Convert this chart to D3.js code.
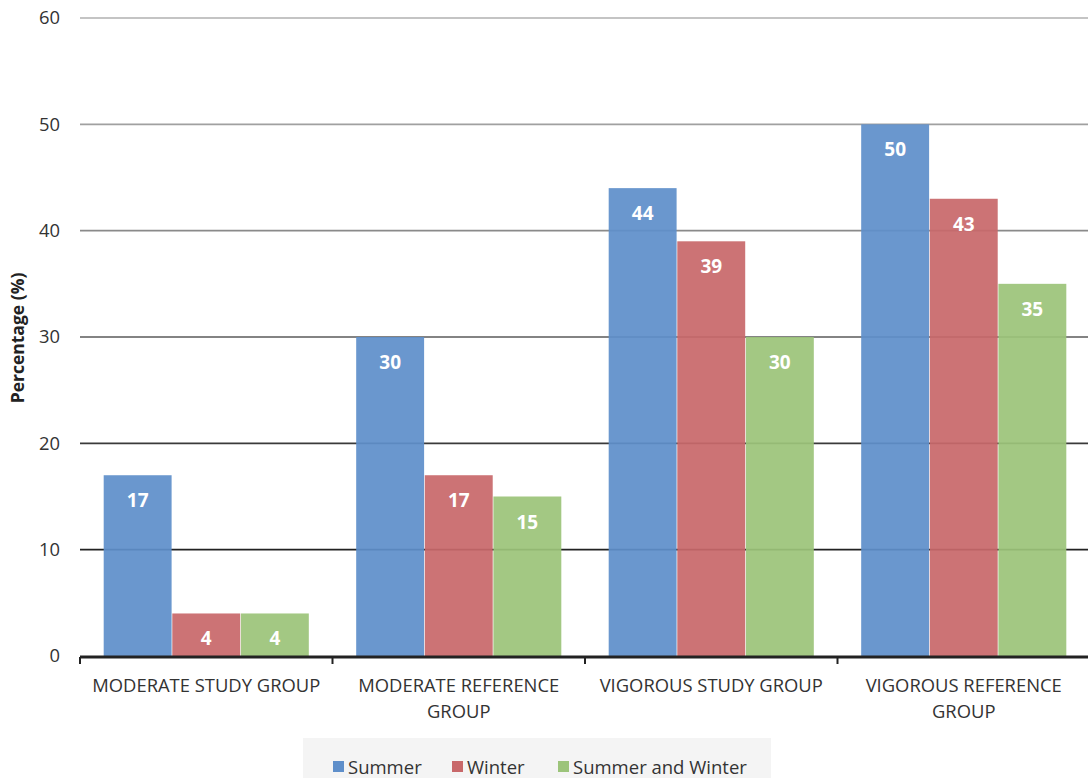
<!DOCTYPE html>
<html><head><meta charset="utf-8">
<script src="https://cdn.jsdelivr.net/npm/d3@7"></script>
<style>body{margin:0;background:#fff}svg{display:block}text{font-family:"Open Sans",sans-serif}</style>
</head><body>
<script>
const categories = ["MODERATE STUDY GROUP","MODERATE REFERENCE GROUP","VIGOROUS STUDY GROUP","VIGOROUS REFERENCE GROUP"];
const seriesNames = ["Summer","Winter","Summer and Winter"];
const summer = [17,30,44,50];
const winter = [4,17,39,43];
const summerWinter = [4,15,30,35];
const yTicks = [0,10,20,30,40,50,60];
const colors = ["#5f8fca","#c8686a","#9cc47a"];
const gridColors = ["#111","#222","#3a3a3a","#5a5a5a","#8a8a8a","#a0a0a0","#b0b0b0"];

const W=1088,H=778;
const svg=d3.select("body").append("svg").attr("width",W).attr("height",H);
const x0=d3.scaleBand().domain(categories).range([80,1090]).paddingInner(0).paddingOuter(0);
const x1=d3.scaleBand().domain(seriesNames).range([23, x0.bandwidth()-23]).padding(0.01);
const y=d3.scaleLinear().domain([0,60]).range([656,18]);
const series=[summer,winter,summerWinter];

// gridlines
svg.append("g").selectAll("line").data(yTicks.filter(d=>d>0)).join("line")
  .attr("x1",80).attr("x2",W).attr("y1",d=>y(d)).attr("y2",d=>y(d))
  .attr("stroke",d=>gridColors[yTicks.indexOf(d)]).attr("stroke-width",1.6);

// y tick labels
svg.append("g").selectAll("text").data(yTicks).join("text")
  .attr("x",60).attr("y",d=>y(d)).attr("dy","0.35em").attr("text-anchor","end")
  .attr("font-size",18.4).attr("fill","#333").text(d=>d);

// y title
svg.append("text").attr("transform","translate(24,338) rotate(-90)").attr("text-anchor","middle")
  .attr("font-size",17.5).attr("font-weight","bold").attr("fill","#222").text("Percentage (%)");

// bars
const g=svg.append("g");
categories.forEach((c,ci)=>{
  seriesNames.forEach((s,si)=>{
    const v=series[si][ci];
    const bx=x0(c)+x1(s), bw=x1.bandwidth();
    g.append("rect").attr("x",bx).attr("y",y(v)).attr("width",bw).attr("height",y(0)-y(v))
      .attr("fill",colors[si]).attr("fill-opacity",0.93);
    g.append("text").attr("x",bx+bw/2).attr("y",y(v)+32).attr("text-anchor","middle")
      .attr("font-size",19).attr("font-weight","bold").attr("fill","#fff").text(v);
  });
});

// x axis
const xa=svg.append("g");
xa.append("line").attr("x1",80).attr("x2",W).attr("y1",657).attr("y2",657).attr("stroke","#222").attr("stroke-width",3);
const bounds=categories.map(c=>x0(c)).concat([x0.range()[1]]);
xa.selectAll("line.t").data(bounds).join("line").attr("class","t")
  .attr("x1",d=>d).attr("x2",d=>d).attr("y1",657).attr("y2",664).attr("stroke","#222").attr("stroke-width",2);

// category labels with wrapping
categories.forEach(c=>{
  const cx=x0(c)+x0.bandwidth()/2;
  const t=svg.append("text").attr("x",cx).attr("y",692).attr("text-anchor","middle")
    .attr("font-size",18.4).attr("fill","#333");
  const words=c.split(" ");
  let line=[];
  let ts=t.append("tspan").attr("x",cx).attr("dy",0);
  words.forEach(w=>{
    line.push(w); ts.text(line.join(" "));
    if(ts.node().getComputedTextLength()>240 && line.length>1){
      line.pop(); ts.text(line.join(" ")); line=[w];
      ts=t.append("tspan").attr("x",cx).attr("dy",26).text(w);
    }
  });
});

// legend
const lg=svg.append("g");
lg.append("rect").attr("x",303).attr("y",738).attr("width",468).attr("height",40).attr("fill","#f4f4f4");
const lx=[333,452,558];
seriesNames.forEach((s,i)=>{
  lg.append("rect").attr("x",lx[i]).attr("y",761).attr("width",11).attr("height",11).attr("fill",colors[i]);
  lg.append("text").attr("x",lx[i]+15).attr("y",774).attr("font-size",18.5).attr("fill","#333").text(s);
});
</script>
</body></html>
